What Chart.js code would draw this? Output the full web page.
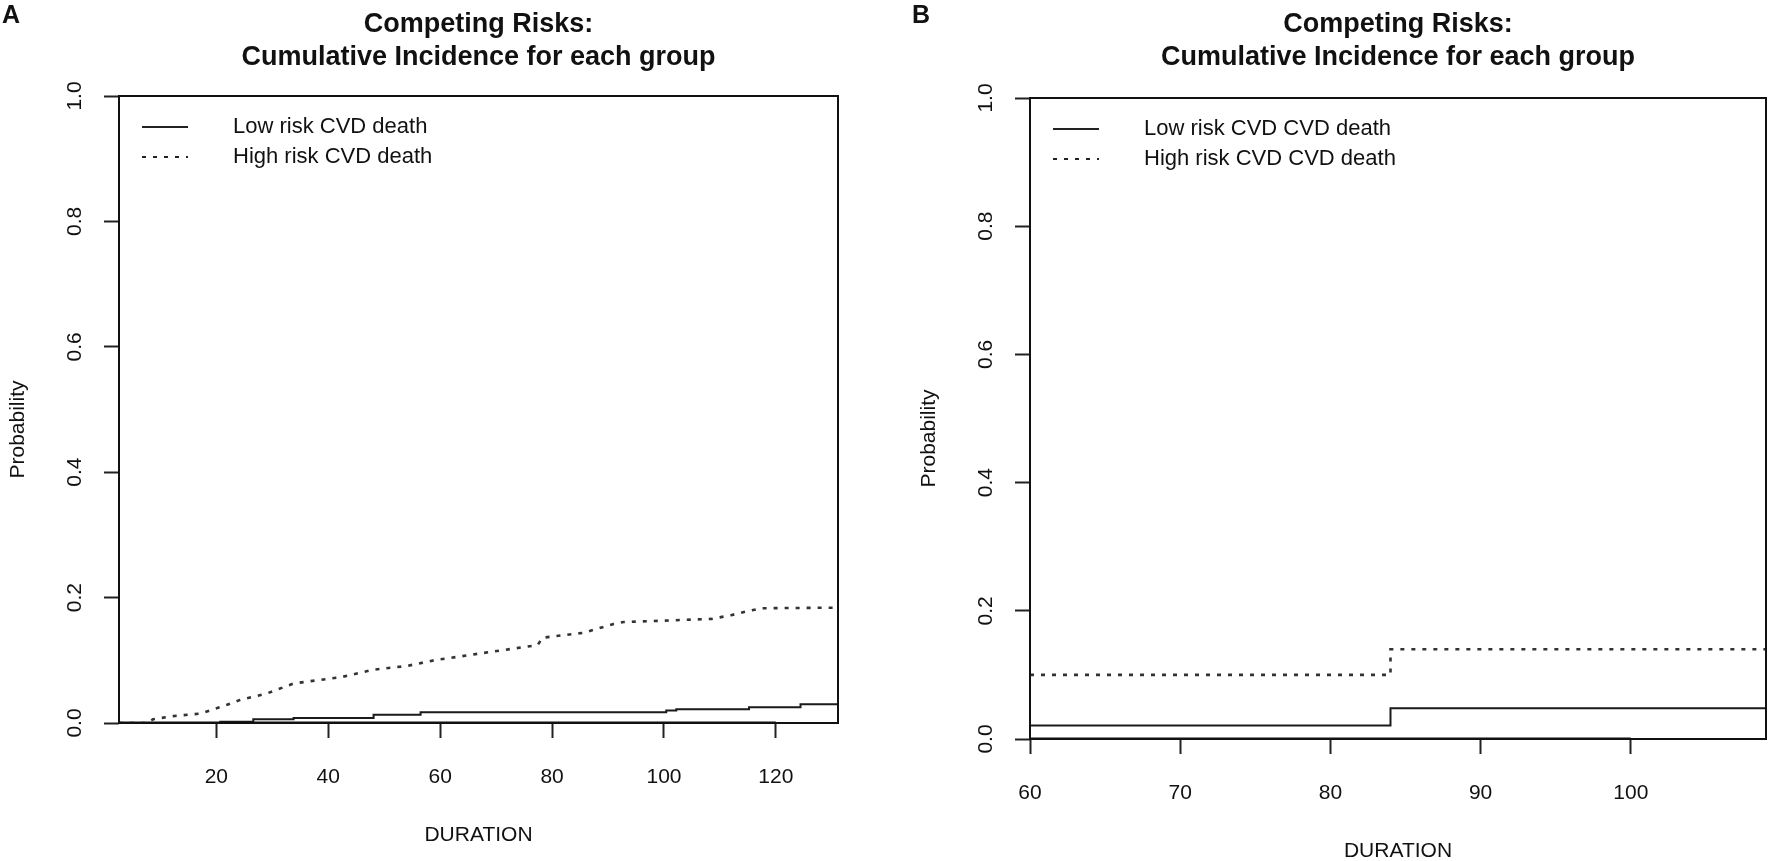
<!DOCTYPE html>
<html>
<head>
<meta charset="utf-8">
<script src="https://cdn.jsdelivr.net/npm/chart.js@4.4.1/dist/chart.umd.min.js"></script>
<style>
  html, body { margin: 0; padding: 0; background: #fff; }
  #wrap { position: relative; width: 1772px; height: 861px; overflow: hidden; }
  canvas { position: absolute; top: 0; }
</style>
</head>
<body>
<div id="wrap">
  <canvas id="chartA" width="886" height="861" style="left:0"></canvas>
  <canvas id="chartB" width="886" height="861" style="left:886px"></canvas>
</div>
<script>
// ---- data ----
const probTicks = [0, 0.2, 0.4, 0.6, 0.8, 1.0]

// panel A
const durationTicksA = [20, 40, 60, 80, 100, 120]
const lowRiskA_x = [2.6, 20.7, 26.6, 33.8, 48.1, 56.5, 100.4, 102.2, 115.2, 124.4, 131.1]
const lowRiskA_y = [0, 0.002, 0.006, 0.008, 0.013, 0.017, 0.020, 0.022, 0.025, 0.030, 0.030]
const highRiskA_x = [2.6, 7.6, 8.7, 12.3, 17.1, 18.9, 21.9, 24.3, 29.0, 33.8, 36.2, 42.2, 48.1, 54.1, 58.9,
  67.2, 74.9, 77.4, 78.3, 85.7, 91.0, 92.8, 108.5, 112.0, 114.3, 117.4, 131.1]
const highRiskA_y = [0, 0, 0.006, 0.011, 0.015, 0.020, 0.029, 0.037, 0.047, 0.063, 0.066, 0.073, 0.085, 0.091, 0.100,
  0.111, 0.121, 0.124, 0.136, 0.144, 0.158, 0.161, 0.166, 0.172, 0.177, 0.183, 0.184]
const otherA_x = [2.6, 120]
const otherA_y = [0, 0]

// panel B
const durationTicksB = [60, 70, 80, 90, 100]
const lowRiskB_x = [60, 84, 109]
const lowRiskB_y = [0.021, 0.048, 0.048]
const highRiskB_x = [60, 84, 109]
const highRiskB_y = [0.100, 0.140, 0.140]
const otherB_x = [60, 100]
const otherB_y = [0, 0]

const legendA = ['Low risk CVD death', 'High risk CVD death']
const legendB = ['Low risk CVD CVD death', 'High risk CVD CVD death']
const titleLines = ['Competing Risks:', 'Cumulative Incidence for each group']

const FONT = '"Liberation Sans", Arial, sans-serif'

const toPoints = (xs, ys) => xs.map((x, i) => ({ x: x, y: ys[i] }))

// draws the R-style decorations: box, rotated y labels, titles, legend
const decorations = {
  id: 'decorations',
  afterDraw(chart, args, o) {
    const ctx = chart.ctx
    const area = chart.chartArea
    const yScale = chart.scales.y
    ctx.save()

    ctx.strokeStyle = '#111'
    ctx.lineWidth = 2
    ctx.strokeRect(area.left, area.top, area.right - area.left, area.bottom - area.top)

    // y tick labels, parallel to the axis
    ctx.fillStyle = '#111'
    ctx.font = '21px ' + FONT
    ctx.textAlign = 'center'
    ctx.textBaseline = 'middle'
    probTicks.forEach(v => {
      const y = yScale.getPixelForValue(v)
      ctx.save()
      ctx.translate(area.left - 44, y)
      ctx.rotate(-Math.PI / 2)
      ctx.fillText(v.toFixed(1), 0, 0)
      ctx.restore()
    })

    // axis titles
    ctx.font = '21px ' + FONT
    ctx.save()
    ctx.translate(area.left - 101, (area.top + area.bottom) / 2 + 20)
    ctx.rotate(-Math.PI / 2)
    ctx.fillText('Probability', 0, 0)
    ctx.restore()
    ctx.fillText('DURATION', (area.left + area.right) / 2, area.bottom + 112)

    // main title
    ctx.font = 'bold 27px ' + FONT
    const cx = (area.left + area.right) / 2
    ctx.fillText(titleLines[0], cx, 25)
    ctx.fillText(titleLines[1], cx, 58)

    // panel letter
    ctx.textAlign = 'left'
    ctx.font = 'bold 25px ' + FONT
    ctx.fillText(o.letter, o.letterX, 16)

    // legend
    ctx.font = '22px ' + FONT
    o.legend.forEach((label, i) => {
      const ly = area.top + 31 + i * 30
      ctx.beginPath()
      ctx.strokeStyle = '#222'
      ctx.lineWidth = 2
      ctx.setLineDash(i === 0 ? [] : [4, 7])
      ctx.moveTo(area.left + 23, ly)
      ctx.lineTo(area.left + 69, ly)
      ctx.stroke()
      ctx.setLineDash([])
      ctx.fillText(label, area.left + 114, ly)
    })
    ctx.restore()
  }
}

function makePanel(id, cfg) {
  const canvas = document.getElementById(id)
  const W = canvas.width, H = canvas.height
  return new Chart(canvas.getContext('2d'), {
    type: 'line',
    data: {
      datasets: [
        { data: cfg.other, borderColor: '#111', borderWidth: 3, pointRadius: 0, stepped: 'before' },
        // R step functions hold the value until the next time point
        { data: cfg.low, borderColor: '#1a1a1a', borderWidth: 2, pointRadius: 0, stepped: 'before' },
        { data: cfg.high, borderColor: '#333', borderWidth: 2.6, borderDash: [4, 7], pointRadius: 0,
          stepped: cfg.highStepped ? 'before' : false }
      ]
    },
    options: {
      responsive: false,
      animation: false,
      layout: { padding: { left: 0, right: W - cfg.right, top: cfg.top, bottom: 0 } },
      plugins: {
        legend: { display: false },
        tooltip: { enabled: false },
        decorations: { letter: cfg.letter, letterX: cfg.letterX, legend: cfg.legend }
      },
      scales: {
        x: {
          type: 'linear',
          min: cfg.xMin,
          max: cfg.xMax,
          afterBuildTicks: s => { s.ticks = cfg.xTicks.map(v => ({ value: v })) },
          afterFit: s => { s.height = H - cfg.bottom },
          grid: { drawOnChartArea: false, tickLength: 15, tickWidth: 2, tickColor: '#222' },
          border: { display: false },
          ticks: { color: '#111', font: { family: FONT, size: 21 }, padding: 27, maxRotation: 0,
            callback: v => String(v) }
        },
        y: {
          min: 0,
          max: 1,
          afterBuildTicks: s => { s.ticks = probTicks.map(v => ({ value: v })) },
          afterFit: s => { s.width = cfg.left },
          grid: { drawOnChartArea: false, tickLength: 15, tickWidth: 2, tickColor: '#222' },
          border: { display: false },
          ticks: { display: false }
        }
      }
    },
    plugins: [decorations]
  })
}

makePanel('chartA', {
  left: 119, right: 838, top: 96, bottom: 723,
  xMin: 2.6, xMax: 131.1, xTicks: durationTicksA,
  low: toPoints(lowRiskA_x, lowRiskA_y),
  high: toPoints(highRiskA_x, highRiskA_y),
  other: toPoints(otherA_x, otherA_y),
  highStepped: false,
  letter: 'A', letterX: 2, legend: legendA
})

makePanel('chartB', {
  left: 144, right: 880, top: 98, bottom: 739,
  xMin: 60, xMax: 109, xTicks: durationTicksB,
  low: toPoints(lowRiskB_x, lowRiskB_y),
  high: toPoints(highRiskB_x, highRiskB_y),
  other: toPoints(otherB_x, otherB_y),
  highStepped: true,
  letter: 'B', letterX: 26, legend: legendB
})
</script>
</body>
</html>
